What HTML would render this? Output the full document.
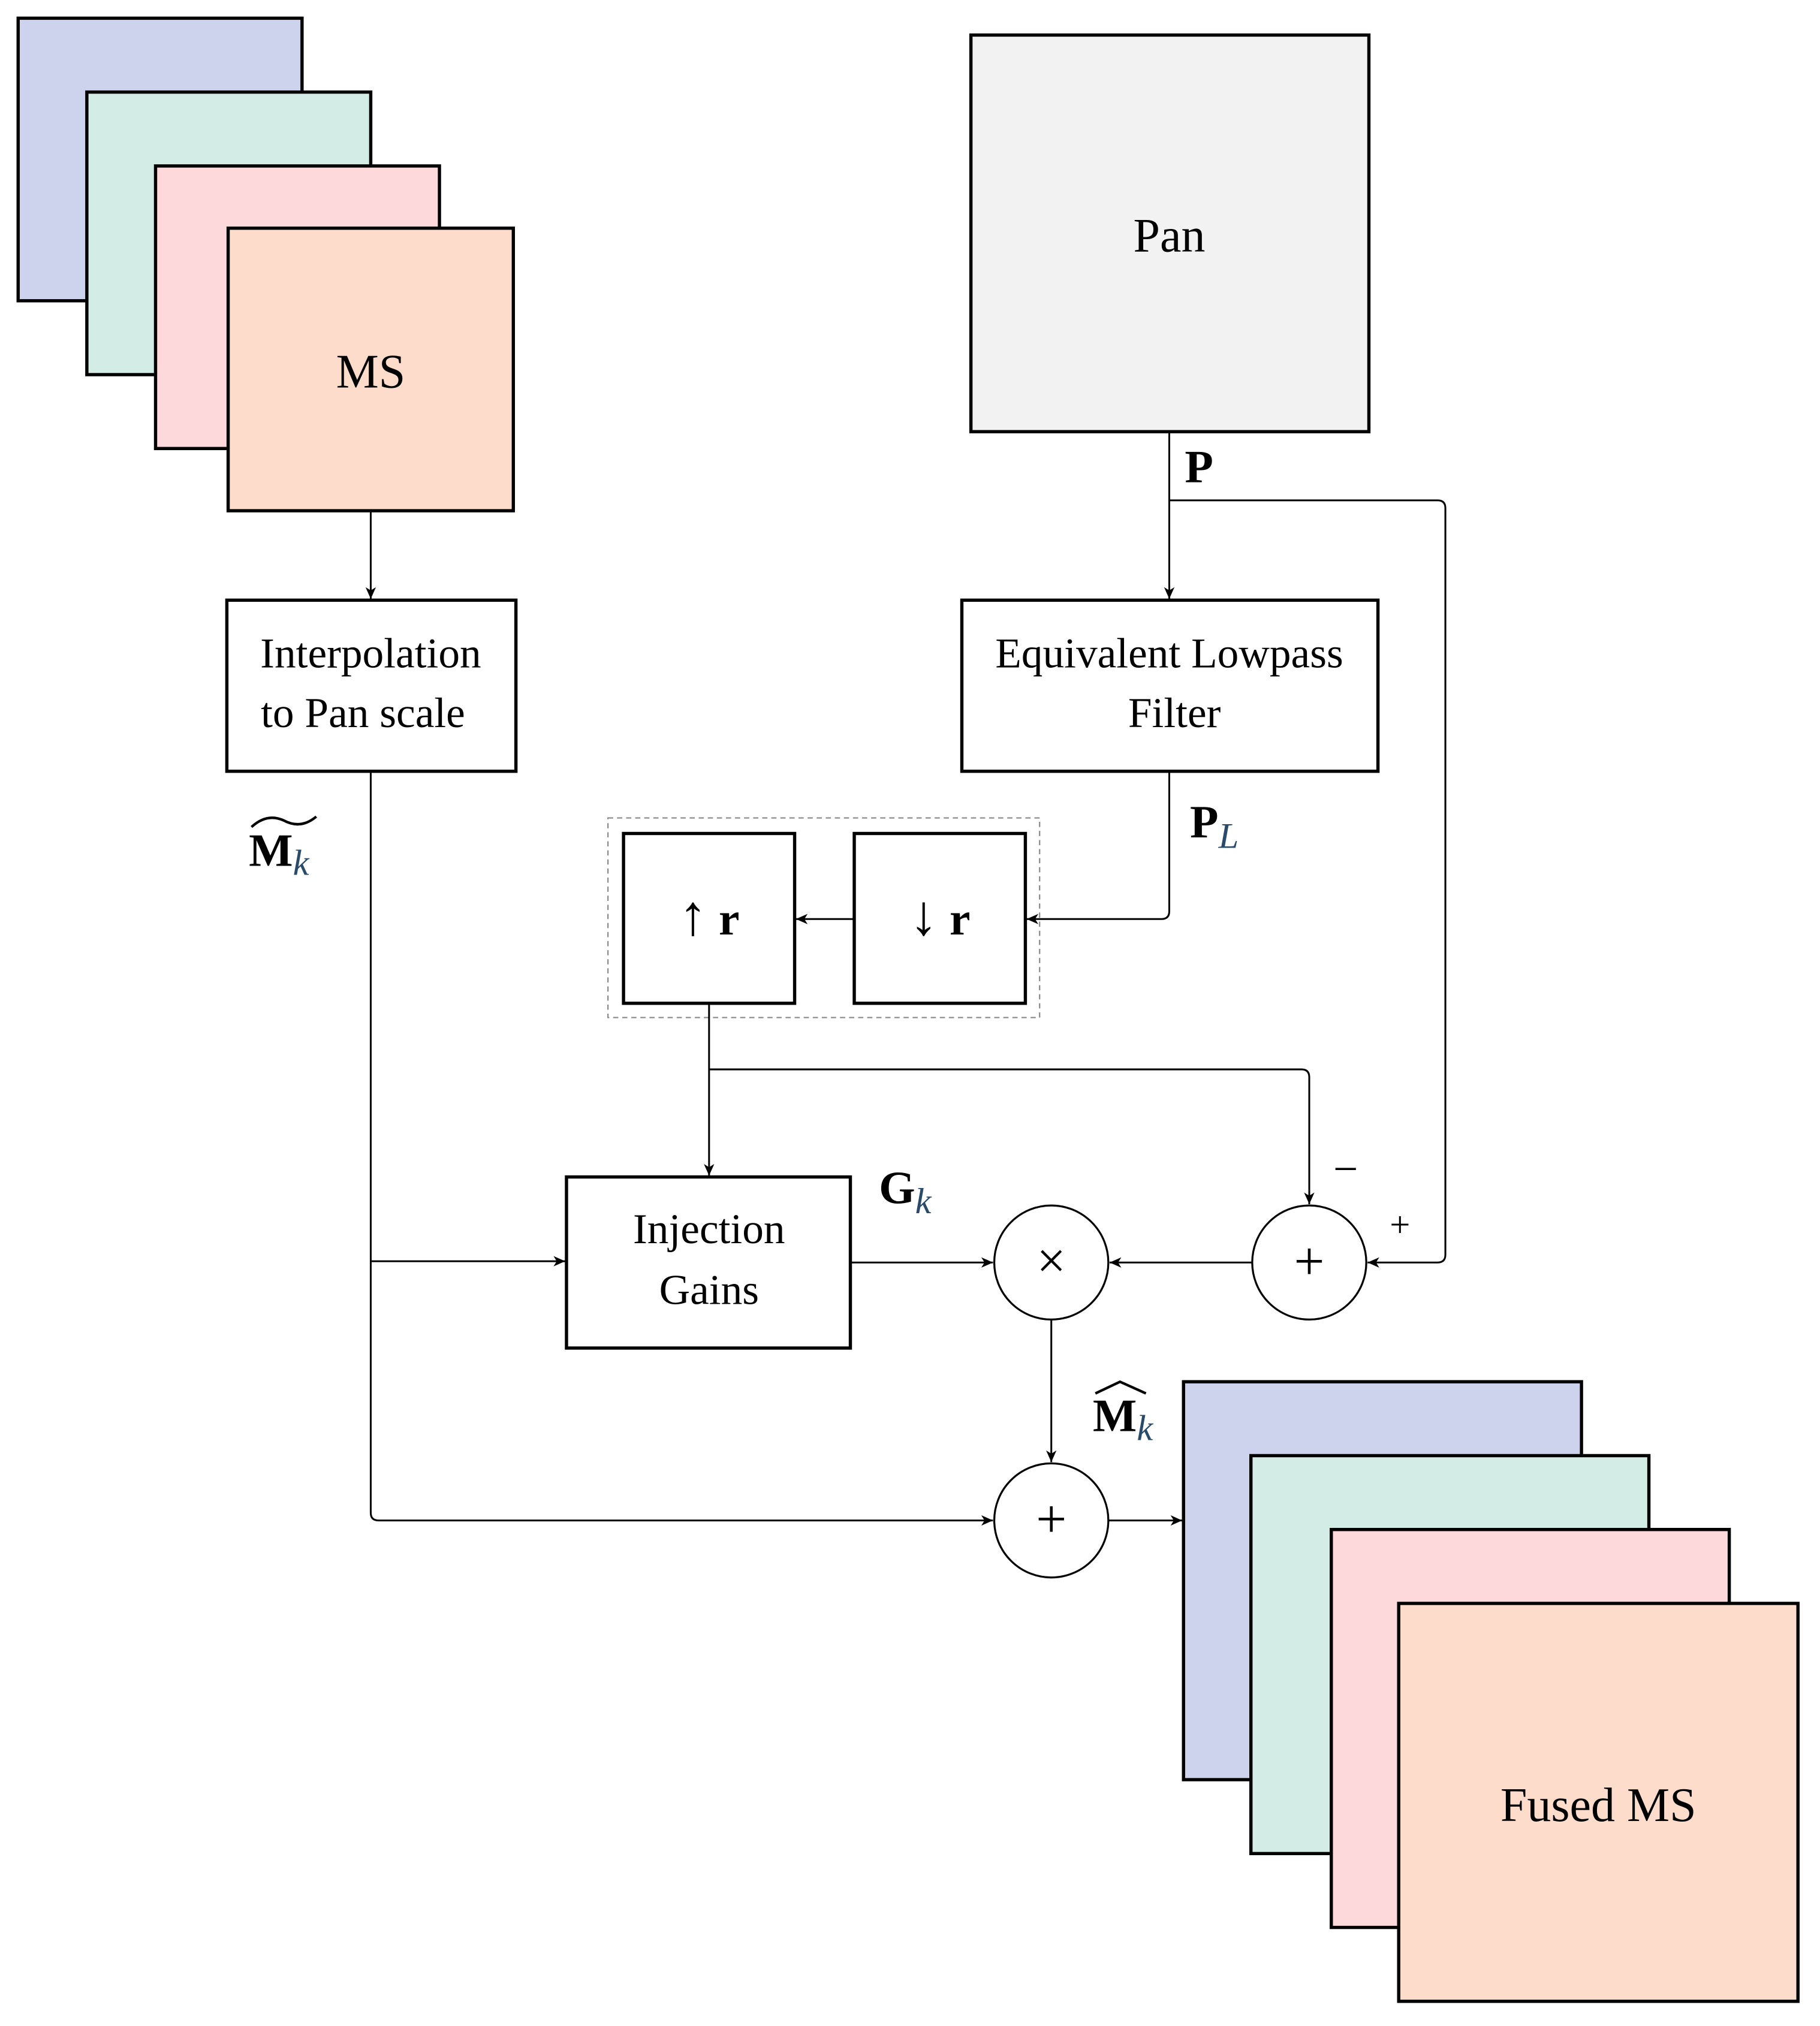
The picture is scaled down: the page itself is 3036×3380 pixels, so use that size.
<!DOCTYPE html>
<html><head><meta charset="utf-8"><style>
html,body{margin:0;padding:0;background:#fff;}
svg{display:block;}
text{font-family:"Liberation Serif","DejaVu Serif",serif;fill:#000;}
</style></head><body>
<svg width="3036" height="3380" viewBox="0 0 1404 1563" xmlns="http://www.w3.org/2000/svg">
<defs>
<marker id="a" viewBox="-10 -5 11 10" refX="0" refY="0" markerWidth="11" markerHeight="10" markerUnits="userSpaceOnUse" orient="auto">
<path d="M0,0 L-9,-4 L-6.5,0 L-9,4 Z" fill="#000"/>
</marker>
</defs>
<rect width="1404" height="1563" fill="#fff"/>
<g stroke="#000" stroke-width="2.5">
<rect x="14" y="14" width="219" height="218" fill="#cdd3ec"/>
<rect x="67" y="71" width="219" height="218" fill="#d4ece6"/>
<rect x="120" y="128" width="219" height="218" fill="#fdd9dc"/>
<rect x="176" y="176" width="220" height="218" fill="#fddccc"/>
<rect x="749" y="27" width="307" height="306" fill="#f2f2f2"/>
<rect x="175" y="463" width="223" height="132" fill="#fff"/>
<rect x="742" y="463" width="321" height="132" fill="#fff"/>
<rect x="481" y="643" width="132" height="131" fill="#fff"/>
<rect x="659" y="643" width="132" height="131" fill="#fff"/>
<rect x="437" y="908" width="219" height="132" fill="#fff"/>
<rect x="913" y="1066" width="307" height="307" fill="#cdd3ec"/>
<rect x="965" y="1123" width="307" height="307" fill="#d4ece6"/>
<rect x="1027" y="1180" width="307" height="307" fill="#fdd9dc"/>
<rect x="1079" y="1237" width="308" height="307" fill="#fddccc"/>
</g>
<rect x="469" y="631" width="333" height="154" fill="none" stroke="#888" stroke-width="1" stroke-dasharray="4,3"/>
<g stroke="#000" stroke-width="1.5" fill="#fff">
<circle cx="811" cy="974" r="44"/>
<circle cx="1010" cy="974" r="44"/>
<circle cx="811" cy="1173" r="44"/>
</g>
<g stroke="#000" stroke-width="1.4" fill="none" marker-end="url(#a)">
<path d="M286,394 V462"/>
<path d="M902,333 V462"/>
<path d="M902,386 H1109 Q1115,386 1115,392 V968 Q1115,974 1109,974 H1055"/>
<path d="M902,595 V703 Q902,709 896,709 H792"/>
<path d="M659,709 H614"/>
<path d="M547,774 V907"/>
<path d="M547,825 H1004 Q1010,825 1010,831 V929"/>
<path d="M966,974 H856"/>
<path d="M656,974 H766"/>
<path d="M286,595 V1167 Q286,1173 292,1173 H766"/>
<path d="M286,973 H436"/>
<path d="M811,1018 V1128"/>
<path d="M855,1173 H912"/>
</g>
<g font-size="37" text-anchor="middle">
<text x="286" y="299">MS</text>
<text x="902" y="194">Pan</text>
<text x="1233" y="1405">Fused MS</text>
</g>
<g font-size="33" text-anchor="middle">
<text x="286" y="515">Interpolation</text>
<text x="280" y="561">to Pan scale</text>
<text x="902" y="515">Equivalent Lowpass</text>
<text x="906" y="561">Filter</text>
<text x="547" y="959">Injection</text>
<text x="547" y="1006">Gains</text>
</g>
<g text-anchor="middle">
<text x="547" y="721" font-size="36"><tspan font-size="44">↑</tspan> <tspan font-weight="bold">r</tspan></text>
<text x="725" y="721" font-size="36"><tspan font-size="44">↓</tspan> <tspan font-weight="bold">r</tspan></text>
<text x="811" y="986" font-size="40">×</text>
<text x="1010" y="987" font-size="42">+</text>
<text x="811" y="1186" font-size="42">+</text>
<text x="1038" y="913" font-size="34">−</text>
<text x="1080" y="954" font-size="28">+</text>
</g>
<g font-size="36" font-weight="bold">
<text x="914" y="372">P</text>
<text x="918" y="646">P<tspan font-weight="normal" font-style="italic" font-size="28" fill="#2a4a6a" dy="8">L</tspan></text>
<text x="678" y="928">G<tspan font-weight="normal" font-style="italic" font-size="28" fill="#2a4a6a" dy="8">k</tspan></text>
<text x="192" y="668">M<tspan font-weight="normal" font-style="italic" font-size="28" fill="#2a4a6a" dy="7">k</tspan></text>
<text x="843" y="1104">M<tspan font-weight="normal" font-style="italic" font-size="28" fill="#2a4a6a" dy="7">k</tspan></text>
</g>
<path d="M194,638 Q206,627 219,633 Q232,640 244,630" stroke="#000" stroke-width="2" fill="none"/>
<path d="M845,1075 L864,1066 L884,1075" stroke="#000" stroke-width="2" fill="none"/>
</svg>
</body></html>
